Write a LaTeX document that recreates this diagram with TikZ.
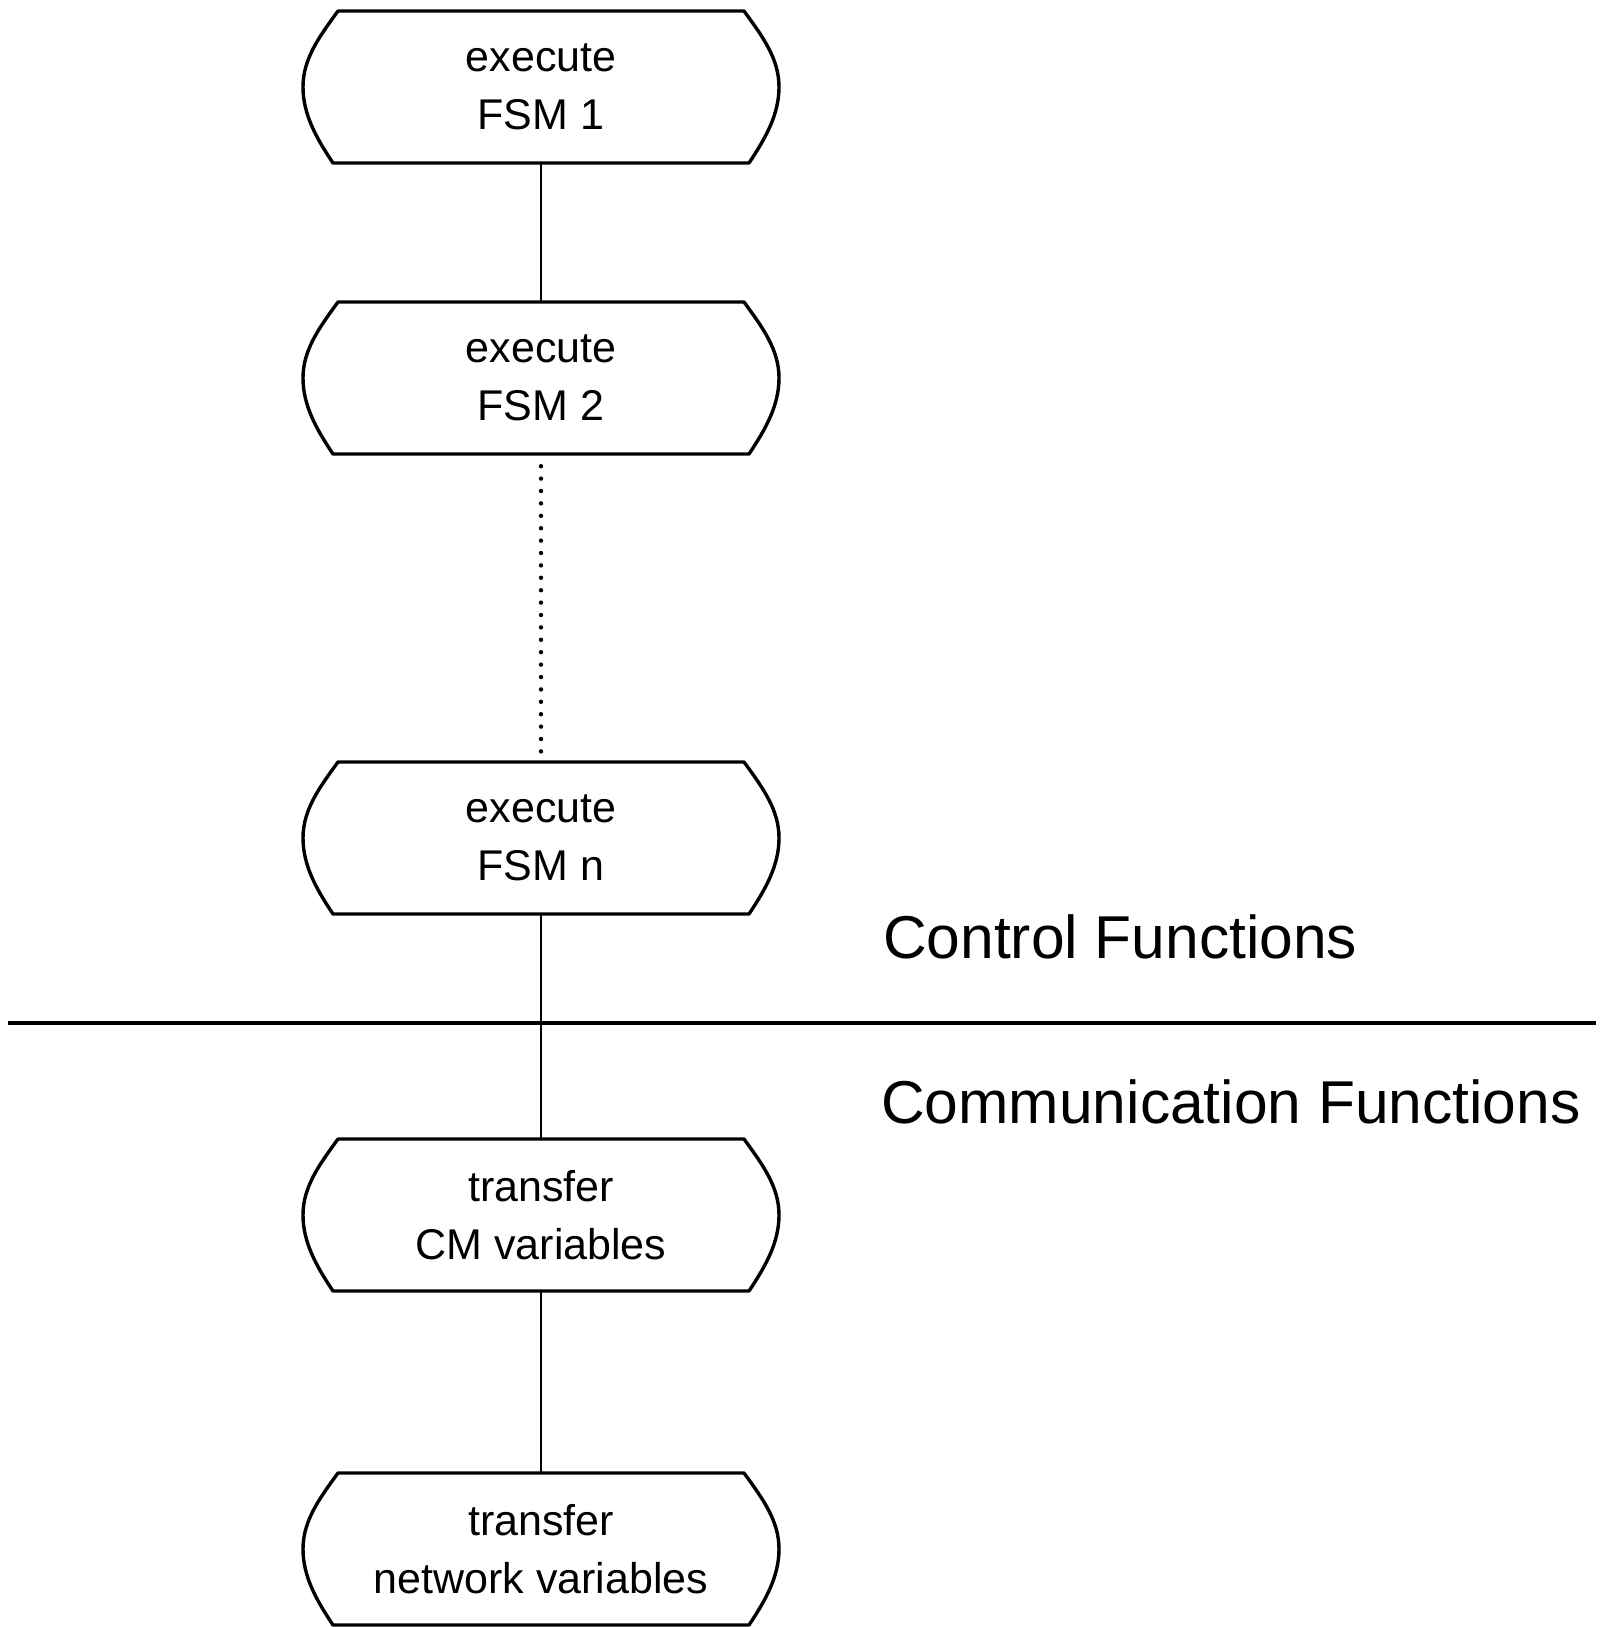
\documentclass[tikz,border=0pt]{standalone}
\usepackage{fontspec}
\setmainfont{Liberation Sans}
\begin{document}
\begin{tikzpicture}[x=1pt,y=-1pt,
  stage/.style={draw=none, minimum width=476pt, minimum height=152pt,
    inner sep=0pt, align=center, font=\fontsize{43}{58}\selectfont},
  outline/.style={line width=3.4pt, line join=round},
  link/.style={line width=2.8pt},
  dotlink/.style={line width=4.4pt, line cap=round, dash pattern=on 0pt off 12.4pt,
    shorten <=12pt, shorten >=8pt},
  divider/.style={line width=3.4pt},
  title/.style={font=\fontsize{60.5}{70}\selectfont, anchor=west, inner sep=0pt}]
\useasboundingbox[fill=white] (0,0) rectangle (1601,1627);

% process stages
\node[stage] (f1) at (541,87)   {execute\\FSM 1};
\node[stage] (f2) at (541,378)  {execute\\FSM 2};
\node[stage] (fn) at (541,838)  {execute\\FSM n};
\node[stage] (cm) at (541,1215) {transfer\\CM variables};
\node[stage] (nw) at (541,1549) {transfer\\network variables};

% rounded-side outlines of the stages
\foreach \n in {f1,f2,fn,cm,nw}
  \draw[outline, shift={(\n.center)}]
    (-203,-76) -- (203,-76)
    .. controls (222,-50) and (238,-28) .. (238,0)
    .. controls (238,28) and (224,52) .. (208,76)
    -- (-208,76)
    .. controls (-224,52) and (-238,28) .. (-238,0)
    .. controls (-238,-28) and (-222,-50) .. (-203,-76) -- cycle;

% connectors
\draw[link] (f1.south) -- (f2.north);
\draw[dotlink] (f2.south) -- (fn.north);
\draw[link] (fn.south) -- (cm.north);
\draw[link] (cm.south) -- (nw.north);

% boundary between the two layers
\coordinate (dl) at (8,1023);
\coordinate (dr) at (1596,1023);
\draw[divider] (dl) -- (dr);

% layer labels
\node[title] (ctl) at (883,937)  {Control Functions};
\node[title] (com) at (881,1102) {Communication Functions};
\end{tikzpicture}
\end{document}
